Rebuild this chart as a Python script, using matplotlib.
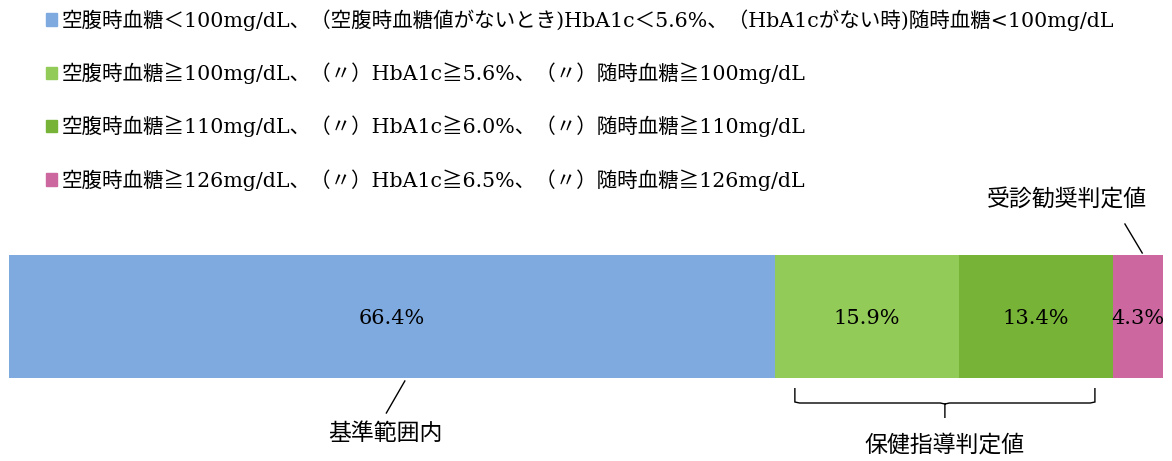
import matplotlib.pyplot as plt
import numpy as np
from matplotlib.patches import Patch, PathPatch
from matplotlib.path import Path

plt.rcParams['font.family'] = ['DejaVu Serif', 'Noto Sans CJK JP']

# data
labels = ['空腹時血糖＜100mg/dL、（空腹時血糖値がないとき)HbA1c＜5.6%、（HbA1cがない時)随時血糖<100mg/dL',
          '空腹時血糖≧100mg/dL、（〃）HbA1c≧5.6%、（〃）随時血糖≧100mg/dL',
          '空腹時血糖≧110mg/dL、（〃）HbA1c≧6.0%、（〃）随時血糖≧110mg/dL',
          '空腹時血糖≧126mg/dL、（〃）HbA1c≧6.5%、（〃）随時血糖≧126mg/dL']
values = [66.4, 15.9, 13.4, 4.3]
colors = ['#7faae0', '#92cb57', '#77b337', '#cc67a0']

fig = plt.figure(figsize=(11.72, 4.61), dpi=100)
ax = fig.add_axes([0, 0, 1, 1])
ax.set_xlim(-0.78, 100.78)
ax.set_ylim(461, 0)  # y in pixels from the top
ax.axis('off')

left = np.concatenate([[0], np.cumsum(values)[:-1]])
ax.barh(316.5, values, left=left, height=123, color=colors)
for l, v in zip(left, values):
    ax.text(l + v / 2, 318, f'{v}%', ha='center', va='center', fontsize=15)

handles = [Patch(color=c) for c in colors]
ax.legend(handles, labels, loc='upper left', bbox_to_anchor=(0.031, 1.0), frameon=False,
          fontsize=14.8, handlelength=0.55, handleheight=0.55, handletextpad=0.25,
          labelspacing=1.54, borderaxespad=0.05)

# 基準範囲内
ax.plot([34.3, 32.7], [381, 413], color='black', lw=1)
ax.text(32.6, 434, '基準範囲内', ha='center', va='center', fontsize=16.5)

# 受診勧奨判定値
ax.plot([96.7, 98.2], [224, 253], color='black', lw=1)
ax.text(91.7, 201, '受診勧奨判定値', ha='center', va='center', fontsize=16.5)

# 保健指導判定値 brace
cum = np.cumsum(values)
b0, b1 = cum[0] + 1.7, cum[2] - 1.6
bm = (b0 + b1) / 2
verts = [(b0, 388), (b0, 402), (b0 + 0.4, 403), (bm - 0.4, 403), (bm, 404), (bm, 418),
         (bm, 404), (bm + 0.4, 403), (b1 - 0.4, 403), (b1, 402), (b1, 388)]
codes = [Path.MOVETO, Path.LINETO, Path.LINETO, Path.LINETO, Path.LINETO, Path.LINETO,
         Path.MOVETO, Path.LINETO, Path.LINETO, Path.LINETO, Path.LINETO]
ax.add_patch(PathPatch(Path(verts, codes), fill=False, lw=1, color='black'))
ax.text(bm, 446, '保健指導判定値', ha='center', va='center', fontsize=16.5)

fig.savefig('out.png', dpi=100)
